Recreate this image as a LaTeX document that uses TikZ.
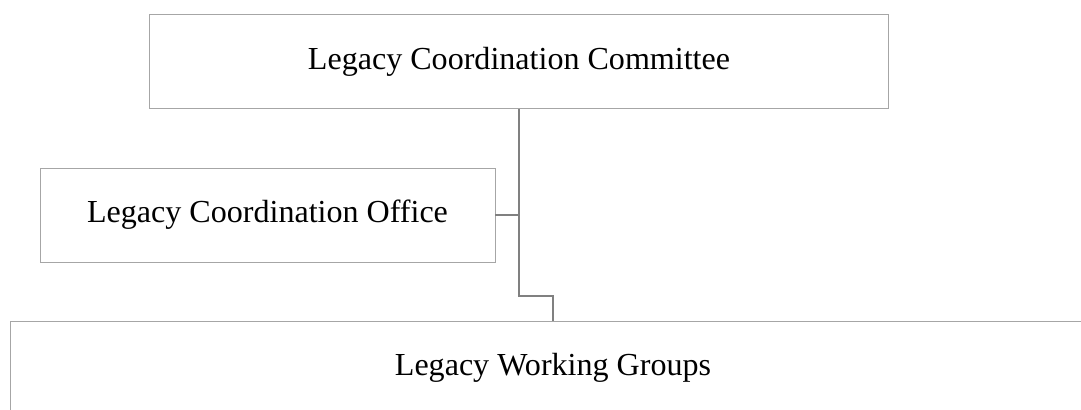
\documentclass[tikz,border=0pt]{standalone}
\usepackage{fontspec}
\setmainfont{Liberation Serif}
\usetikzlibrary{positioning}

\begin{document}
\begin{tikzpicture}[
x=0.025cm,y=-0.025cm,
unit/.style={
draw=black!35,
line width=0.6pt,
minimum height=94*0.025cm,
inner sep=0pt,
align=center,
font=\fontsize{22.8}{27}\selectfont
},
link/.style={draw=black!50,line width=1.3pt}
]
\useasboundingbox (0,0) rectangle (1081,409);

\node[unit,minimum width=739*0.025cm] (committee) at (519,61.5)
{Legacy Coordination Committee};

\node[unit,minimum width=455*0.025cm] (office) at (267.5,215)
{Legacy Coordination Office};

\node[unit,minimum width=1086*0.025cm] (groups) at (553,368)
{Legacy Working Groups};

\coordinate (jog) at (519,296);

\draw[link] (committee.south)--(jog)-|(groups.north);
\draw[link] (office.east)--(office.east -| jog);

\end{tikzpicture}
\end{document}
